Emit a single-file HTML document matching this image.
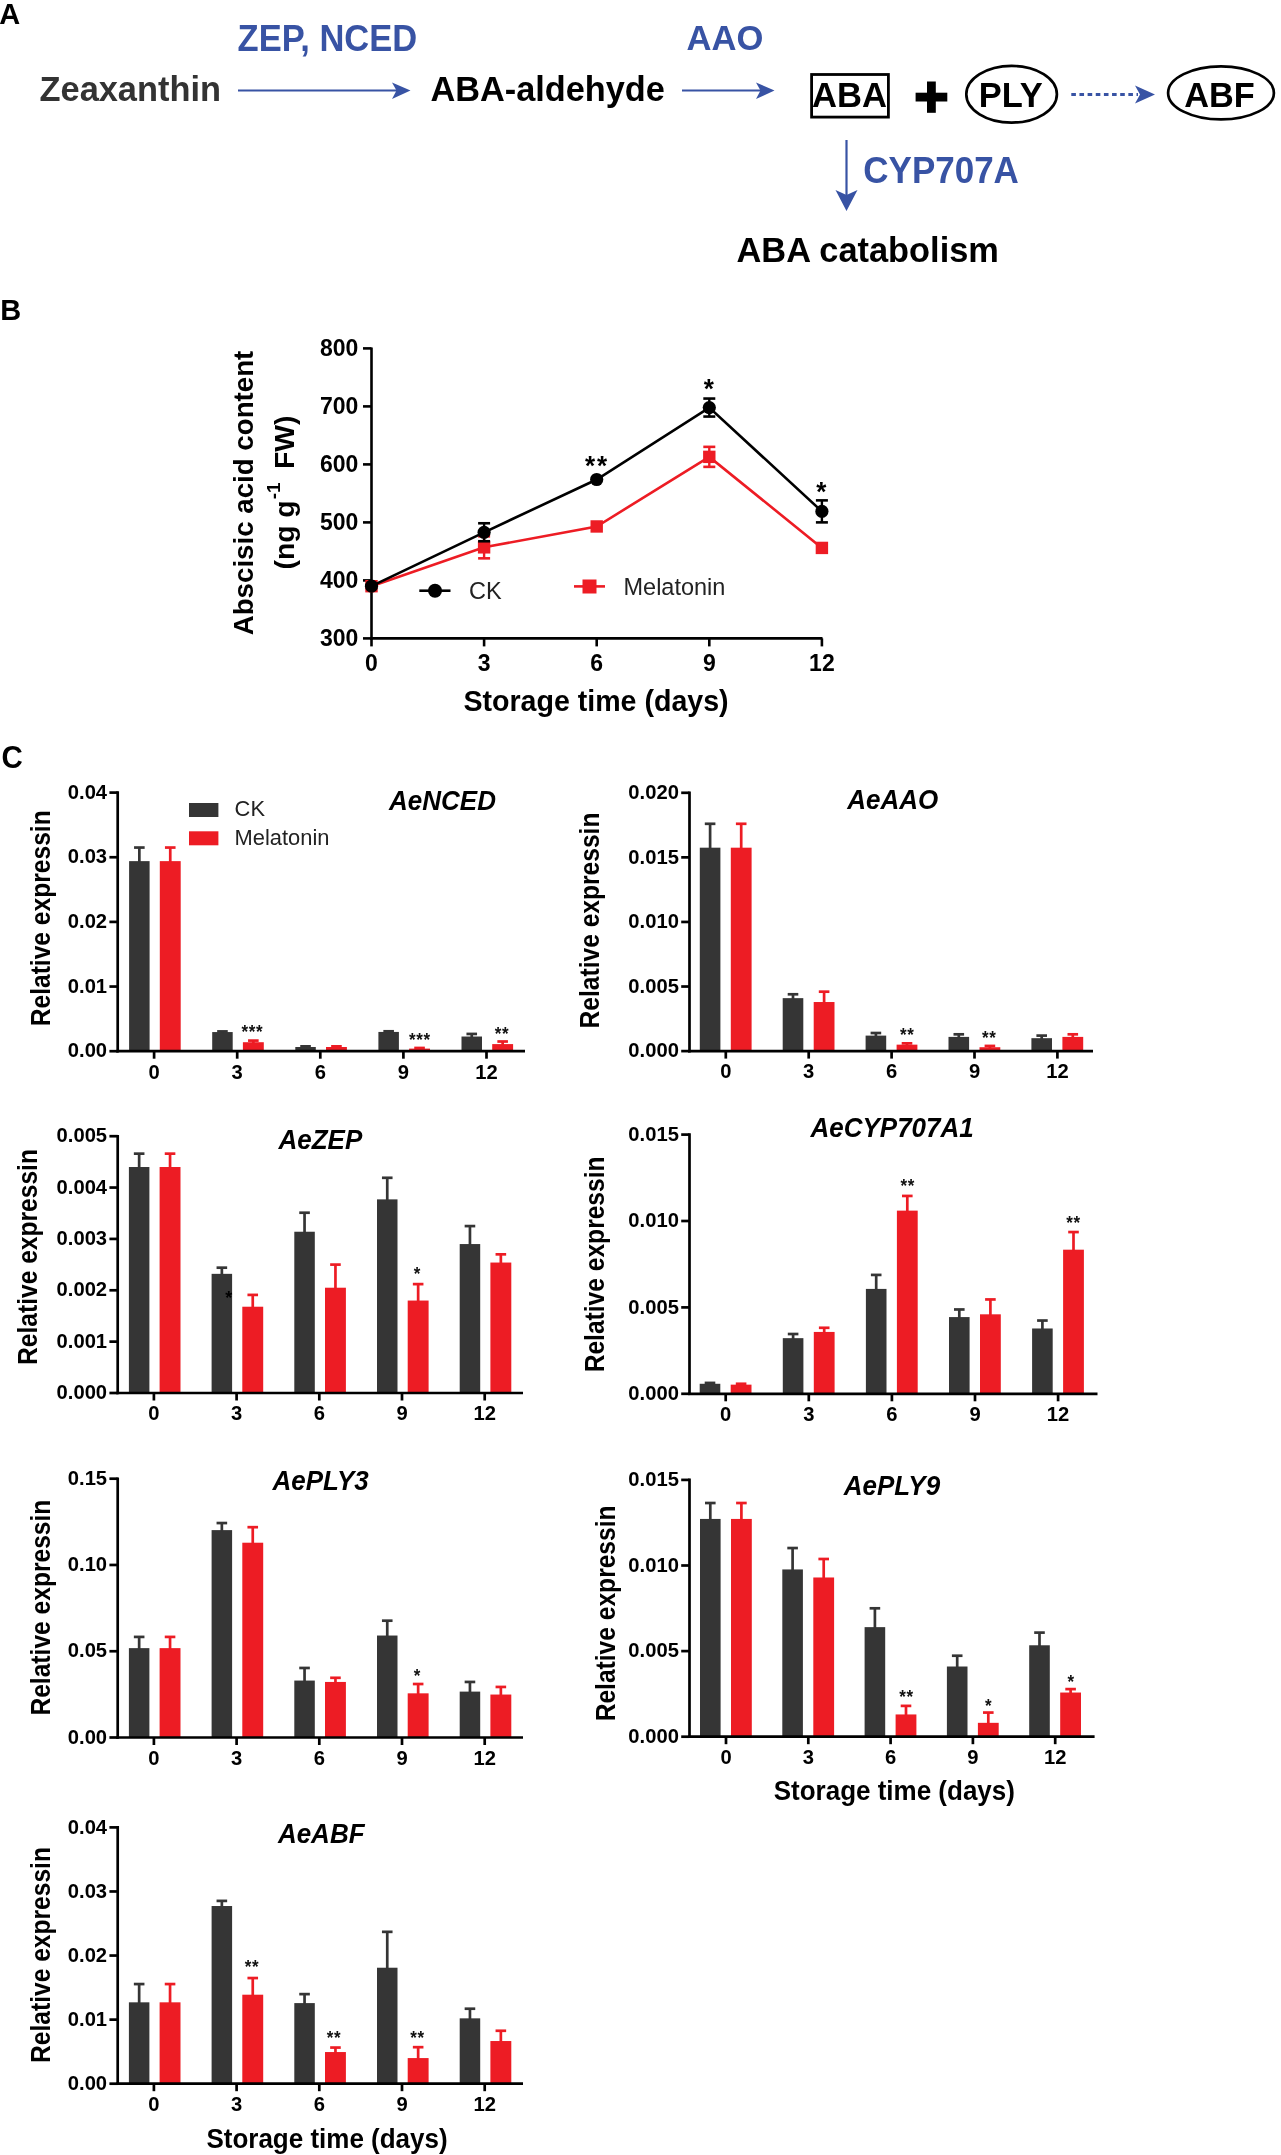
<!DOCTYPE html>
<html><head><meta charset="utf-8"><style>
html,body{margin:0;padding:0;background:#fff;}
body{width:1281px;height:2155px;overflow:hidden;}
svg{display:block;font-family:"Liberation Sans",sans-serif;filter:blur(0.45px);}
</style></head><body>
<svg width="1281" height="2155" viewBox="0 0 1281 2155">
<text transform="translate(-0.7,23.9) scale(1,1.04)" font-size="29" font-weight="bold" font-style="normal" fill="#000" text-anchor="start" >A</text>
<text transform="translate(237.6,50.5) scale(1,1.06)" font-size="34.5" font-weight="bold" font-style="normal" fill="#3853a4" text-anchor="start" >ZEP, NCED</text>
<text transform="translate(39.5,101) scale(1,1.04)" font-size="34.4" font-weight="bold" font-style="normal" fill="#333" text-anchor="start" >Zeaxanthin</text>
<line x1="238" y1="90.5" x2="404" y2="90.5" stroke="#3853a4" stroke-width="2.2" />
<path d="M392,82.5 L410.5,90.5 L392,99 L396.5,90.5 Z" fill="#3853a4"/>
<text transform="translate(430.5,100.7) scale(1,1.04)" font-size="34.3" font-weight="bold" font-style="normal" fill="#000" text-anchor="start" >ABA-aldehyde</text>
<text transform="translate(686.5,50.3) scale(1,1.04)" font-size="34.6" font-weight="bold" font-style="normal" fill="#3853a4" text-anchor="start" >AAO</text>
<line x1="682" y1="90.5" x2="768" y2="90.5" stroke="#3853a4" stroke-width="2.2" />
<path d="M756,82.5 L774.5,90.5 L756,99 L760.5,90.5 Z" fill="#3853a4"/>
<rect x="811.6" y="74.5" width="76.8" height="42.6" fill="none" stroke="#000" stroke-width="2.8"/>
<text transform="translate(849.5,107.3) scale(1,1.04)" font-size="34.6" font-weight="bold" font-style="normal" fill="#000" text-anchor="middle" >ABA</text>
<rect x="927" y="81.5" width="8.8" height="31.3" fill="#000"/>
<rect x="915.6" y="92.7" width="31.7" height="8.8" fill="#000"/>
<ellipse cx="1011.6" cy="94.2" rx="45.3" ry="28.4" fill="none" stroke="#000" stroke-width="2.7"/>
<text transform="translate(1010.8,107.1) scale(1,1.04)" font-size="34.5" font-weight="bold" font-style="normal" fill="#000" text-anchor="middle" >PLY</text>
<line x1="1071.3" y1="94.4" x2="1138" y2="94.4" stroke="#3853a4" stroke-width="3" stroke-dasharray="4.6,3.55"/>
<path d="M1135,85.5 L1155,94.5 L1135,103.5 L1140,94.5 Z" fill="#3853a4"/>
<ellipse cx="1221" cy="92.9" rx="52.9" ry="26.5" fill="none" stroke="#000" stroke-width="2.7"/>
<text transform="translate(1219.5,106.9) scale(1,1.04)" font-size="34.3" font-weight="bold" font-style="normal" fill="#000" text-anchor="middle" >ABF</text>
<line x1="846.5" y1="140" x2="846.5" y2="205" stroke="#3853a4" stroke-width="2.2" />
<path d="M835.5,190 L846.5,211 L857.5,190 L846.5,195 Z" fill="#3853a4"/>
<text transform="translate(863.3,183.2) scale(1,1.04)" font-size="35" font-weight="bold" font-style="normal" fill="#3853a4" text-anchor="start" >CYP707A</text>
<text transform="translate(736.5,262) scale(1,1.04)" font-size="34.4" font-weight="bold" font-style="normal" fill="#000" text-anchor="start" >ABA catabolism</text>
<text transform="translate(0.2,319.6) scale(1,1.04)" font-size="29" font-weight="bold" font-style="normal" fill="#000" text-anchor="start" >B</text>
<line x1="371.5" y1="347.5" x2="371.5" y2="639.4" stroke="#000" stroke-width="2.6" />
<line x1="370.2" y1="638.4" x2="822.5" y2="638.4" stroke="#000" stroke-width="2.6" />
<line x1="363" y1="638.4" x2="371.5" y2="638.4" stroke="#000" stroke-width="2.6" />
<text transform="translate(358.3,646.0) scale(1,1.04)" font-size="23" font-weight="bold" font-style="normal" fill="#000" text-anchor="end" >300</text>
<line x1="363" y1="580.4" x2="371.5" y2="580.4" stroke="#000" stroke-width="2.6" />
<text transform="translate(358.3,588.0) scale(1,1.04)" font-size="23" font-weight="bold" font-style="normal" fill="#000" text-anchor="end" >400</text>
<line x1="363" y1="522.4" x2="371.5" y2="522.4" stroke="#000" stroke-width="2.6" />
<text transform="translate(358.3,530.0) scale(1,1.04)" font-size="23" font-weight="bold" font-style="normal" fill="#000" text-anchor="end" >500</text>
<line x1="363" y1="464.4" x2="371.5" y2="464.4" stroke="#000" stroke-width="2.6" />
<text transform="translate(358.3,472.0) scale(1,1.04)" font-size="23" font-weight="bold" font-style="normal" fill="#000" text-anchor="end" >600</text>
<line x1="363" y1="406.4" x2="371.5" y2="406.4" stroke="#000" stroke-width="2.6" />
<text transform="translate(358.3,414.0) scale(1,1.04)" font-size="23" font-weight="bold" font-style="normal" fill="#000" text-anchor="end" >700</text>
<line x1="363" y1="348.4" x2="371.5" y2="348.4" stroke="#000" stroke-width="2.6" />
<text transform="translate(358.3,356.0) scale(1,1.04)" font-size="23" font-weight="bold" font-style="normal" fill="#000" text-anchor="end" >800</text>
<line x1="371.5" y1="638.4" x2="371.5" y2="646.4" stroke="#000" stroke-width="2.6" />
<text transform="translate(371.5,670.6) scale(1,1.04)" font-size="23" font-weight="bold" font-style="normal" fill="#000" text-anchor="middle" >0</text>
<line x1="484.09999999999997" y1="638.4" x2="484.09999999999997" y2="646.4" stroke="#000" stroke-width="2.6" />
<text transform="translate(484.09999999999997,670.6) scale(1,1.04)" font-size="23" font-weight="bold" font-style="normal" fill="#000" text-anchor="middle" >3</text>
<line x1="596.6999999999999" y1="638.4" x2="596.6999999999999" y2="646.4" stroke="#000" stroke-width="2.6" />
<text transform="translate(596.6999999999999,670.6) scale(1,1.04)" font-size="23" font-weight="bold" font-style="normal" fill="#000" text-anchor="middle" >6</text>
<line x1="709.3" y1="638.4" x2="709.3" y2="646.4" stroke="#000" stroke-width="2.6" />
<text transform="translate(709.3,670.6) scale(1,1.04)" font-size="23" font-weight="bold" font-style="normal" fill="#000" text-anchor="middle" >9</text>
<line x1="821.8999999999999" y1="638.4" x2="821.8999999999999" y2="646.4" stroke="#000" stroke-width="2.6" />
<text transform="translate(821.8999999999999,670.6) scale(1,1.04)" font-size="23" font-weight="bold" font-style="normal" fill="#000" text-anchor="middle" >12</text>
<text transform="translate(596,710.8) scale(1,1.04)" font-size="28.6" font-weight="bold" font-style="normal" fill="#000" text-anchor="middle" >Storage time (days)</text>
<text transform="translate(253,493) rotate(-90)" font-size="27.7" font-weight="bold" text-anchor="middle">Abscisic acid content</text>
<text transform="translate(294,569.5) rotate(-90)" font-size="28.3" font-weight="bold" text-anchor="start">(ng g<tspan font-size="19" dy="-14.5" dx="1">-1</tspan><tspan dy="14.5" dx="13.5">FW)</tspan></text>
<polyline points="371.5,586.2 484.1,547.3 596.7,526.5 709.3,456.9 821.9,547.9" fill="none" stroke="#ed1c24" stroke-width="2.6"/>
<rect x="365.3" y="579.9999999999999" width="12.4" height="12.4" fill="#ed1c24"/>
<line x1="484.09999999999997" y1="536.34" x2="484.09999999999997" y2="558.3399999999999" stroke="#ed1c24" stroke-width="2.4" />
<line x1="478.09999999999997" y1="536.34" x2="490.09999999999997" y2="536.34" stroke="#ed1c24" stroke-width="2.6" />
<line x1="478.09999999999997" y1="558.3399999999999" x2="490.09999999999997" y2="558.3399999999999" stroke="#ed1c24" stroke-width="2.6" />
<rect x="477.9" y="541.14" width="12.4" height="12.4" fill="#ed1c24"/>
<rect x="590.4999999999999" y="520.26" width="12.4" height="12.4" fill="#ed1c24"/>
<line x1="709.3" y1="446.85999999999996" x2="709.3" y2="466.86" stroke="#ed1c24" stroke-width="2.4" />
<line x1="703.3" y1="446.85999999999996" x2="715.3" y2="446.85999999999996" stroke="#ed1c24" stroke-width="2.6" />
<line x1="703.3" y1="466.86" x2="715.3" y2="466.86" stroke="#ed1c24" stroke-width="2.6" />
<rect x="703.0999999999999" y="450.66" width="12.4" height="12.4" fill="#ed1c24"/>
<rect x="815.6999999999998" y="541.7199999999999" width="12.4" height="12.4" fill="#ed1c24"/>
<polyline points="371.5,586.2 484.1,532.3 596.7,479.5 709.3,407.6 821.9,511.4" fill="none" stroke="#000" stroke-width="2.6"/>
<circle cx="371.5" cy="586.2" r="6.6" fill="#000"/>
<line x1="484.09999999999997" y1="523.26" x2="484.09999999999997" y2="541.26" stroke="#000" stroke-width="2.4" />
<line x1="478.09999999999997" y1="523.26" x2="490.09999999999997" y2="523.26" stroke="#000" stroke-width="2.6" />
<line x1="478.09999999999997" y1="541.26" x2="490.09999999999997" y2="541.26" stroke="#000" stroke-width="2.6" />
<circle cx="484.1" cy="532.3" r="6.6" fill="#000"/>
<circle cx="596.7" cy="479.5" r="6.6" fill="#000"/>
<line x1="709.3" y1="398.56" x2="709.3" y2="416.56" stroke="#000" stroke-width="2.4" />
<line x1="703.3" y1="398.56" x2="715.3" y2="398.56" stroke="#000" stroke-width="2.6" />
<line x1="703.3" y1="416.56" x2="715.3" y2="416.56" stroke="#000" stroke-width="2.6" />
<circle cx="709.3" cy="407.6" r="6.6" fill="#000"/>
<line x1="821.8999999999999" y1="500.38" x2="821.8999999999999" y2="522.38" stroke="#000" stroke-width="2.4" />
<line x1="815.8999999999999" y1="500.38" x2="827.8999999999999" y2="500.38" stroke="#000" stroke-width="2.6" />
<line x1="815.8999999999999" y1="522.38" x2="827.8999999999999" y2="522.38" stroke="#000" stroke-width="2.6" />
<circle cx="821.9" cy="511.4" r="6.6" fill="#000"/>
<text transform="translate(597,475.1) scale(1,1.04)" font-size="26" font-weight="bold" font-style="normal" fill="#000" text-anchor="middle" letter-spacing="2">**</text>
<text transform="translate(708.8,398.1) scale(1,1.04)" font-size="26" font-weight="bold" font-style="normal" fill="#000" text-anchor="middle" >*</text>
<text transform="translate(821.3,500.7) scale(1,1.04)" font-size="26" font-weight="bold" font-style="normal" fill="#000" text-anchor="middle" >*</text>
<line x1="419.3" y1="590.7" x2="450.5" y2="590.7" stroke="#000" stroke-width="2.6" />
<circle cx="435" cy="590.7" r="7" fill="#000"/>
<text transform="translate(469,598.5) scale(1,1.04)" font-size="23.5" font-weight="normal" font-style="normal" fill="#222" text-anchor="start" >CK</text>
<line x1="574" y1="586.4" x2="605" y2="586.4" stroke="#ed1c24" stroke-width="2.6" />
<rect x="582.5" y="579.5" width="14" height="14" fill="#ed1c24"/>
<text transform="translate(623.5,594.6) scale(1,1.04)" font-size="23.5" font-weight="normal" font-style="normal" fill="#222" text-anchor="start" >Melatonin</text>
<text transform="translate(1.6,768) scale(1,1.04)" font-size="29.5" font-weight="bold" font-style="normal" fill="#000" text-anchor="start" >C</text>
<rect x="129.1" y="861.129" width="20.5" height="190.07100000000003" fill="#353535"/>
<line x1="139.35" y1="847.5525" x2="139.35" y2="862.129" stroke="#353535" stroke-width="2.7" />
<line x1="134.04999999999998" y1="847.5525" x2="144.65" y2="847.5525" stroke="#353535" stroke-width="2.7" />
<rect x="159.79999999999998" y="861.129" width="20.900000000000002" height="190.07100000000003" fill="#ed1c24"/>
<line x1="170.25" y1="847.5525" x2="170.25" y2="862.129" stroke="#ed1c24" stroke-width="2.7" />
<line x1="164.95" y1="847.5525" x2="175.55" y2="847.5525" stroke="#ed1c24" stroke-width="2.7" />
<rect x="212.2" y="1032.0636" width="20.5" height="19.136400000000094" fill="#353535"/>
<line x1="222.45" y1="1031.4171000000001" x2="222.45" y2="1033.0636" stroke="#353535" stroke-width="2.7" />
<line x1="217.14999999999998" y1="1031.4171000000001" x2="227.75" y2="1031.4171000000001" stroke="#353535" stroke-width="2.7" />
<rect x="242.89999999999998" y="1042.2136500000001" width="20.900000000000002" height="8.986349999999902" fill="#ed1c24"/>
<line x1="253.35" y1="1040.5974" x2="253.35" y2="1043.2136500000001" stroke="#ed1c24" stroke-width="2.7" />
<line x1="248.04999999999998" y1="1040.5974" x2="258.65" y2="1040.5974" stroke="#ed1c24" stroke-width="2.7" />
<rect x="295.29999999999995" y="1046.99775" width="20.5" height="4.202250000000049" fill="#353535"/>
<line x1="305.54999999999995" y1="1046.35125" x2="305.54999999999995" y2="1047.99775" stroke="#353535" stroke-width="2.7" />
<line x1="300.24999999999994" y1="1046.35125" x2="310.84999999999997" y2="1046.35125" stroke="#353535" stroke-width="2.7" />
<rect x="325.99999999999994" y="1046.99775" width="20.900000000000002" height="4.202250000000049" fill="#ed1c24"/>
<line x1="336.44999999999993" y1="1046.35125" x2="336.44999999999993" y2="1047.99775" stroke="#ed1c24" stroke-width="2.7" />
<line x1="331.1499999999999" y1="1046.35125" x2="341.74999999999994" y2="1046.35125" stroke="#ed1c24" stroke-width="2.7" />
<rect x="378.4" y="1031.9343000000001" width="20.5" height="19.265699999999924" fill="#353535"/>
<line x1="388.65" y1="1031.2878" x2="388.65" y2="1032.9343000000001" stroke="#353535" stroke-width="2.7" />
<line x1="383.34999999999997" y1="1031.2878" x2="393.95" y2="1031.2878" stroke="#353535" stroke-width="2.7" />
<rect x="409.09999999999997" y="1048.614" width="20.900000000000002" height="2.5860000000000127" fill="#ed1c24"/>
<line x1="419.54999999999995" y1="1047.9675" x2="419.54999999999995" y2="1049.614" stroke="#ed1c24" stroke-width="2.7" />
<line x1="414.24999999999994" y1="1047.9675" x2="424.84999999999997" y2="1047.9675" stroke="#ed1c24" stroke-width="2.7" />
<rect x="461.5" y="1036.5244500000001" width="20.5" height="14.67554999999993" fill="#353535"/>
<line x1="471.75" y1="1033.93845" x2="471.75" y2="1037.5244500000001" stroke="#353535" stroke-width="2.7" />
<line x1="466.45" y1="1033.93845" x2="477.05" y2="1033.93845" stroke="#353535" stroke-width="2.7" />
<rect x="492.2" y="1044.0885" width="20.900000000000002" height="7.111499999999978" fill="#ed1c24"/>
<line x1="502.65" y1="1041.5025" x2="502.65" y2="1045.0885" stroke="#ed1c24" stroke-width="2.7" />
<line x1="497.34999999999997" y1="1041.5025" x2="507.95" y2="1041.5025" stroke="#ed1c24" stroke-width="2.7" />
<line x1="117.7" y1="791.3000000000001" x2="117.7" y2="1052.5" stroke="#000" stroke-width="2.7" />
<line x1="116.4" y1="1051.2" x2="525" y2="1051.2" stroke="#000" stroke-width="2.7" />
<line x1="109.4" y1="1051.2" x2="117.7" y2="1051.2" stroke="#000" stroke-width="2.7" />
<text transform="translate(107.10000000000001,1057.4) scale(1,1.04)" font-size="20.2" font-weight="bold" font-style="normal" fill="#000" text-anchor="end" >0.00</text>
<line x1="109.4" y1="986.5500000000001" x2="117.7" y2="986.5500000000001" stroke="#000" stroke-width="2.7" />
<text transform="translate(107.10000000000001,992.7500000000001) scale(1,1.04)" font-size="20.2" font-weight="bold" font-style="normal" fill="#000" text-anchor="end" >0.01</text>
<line x1="109.4" y1="921.9000000000001" x2="117.7" y2="921.9000000000001" stroke="#000" stroke-width="2.7" />
<text transform="translate(107.10000000000001,928.1000000000001) scale(1,1.04)" font-size="20.2" font-weight="bold" font-style="normal" fill="#000" text-anchor="end" >0.02</text>
<line x1="109.4" y1="857.25" x2="117.7" y2="857.25" stroke="#000" stroke-width="2.7" />
<text transform="translate(107.10000000000001,863.45) scale(1,1.04)" font-size="20.2" font-weight="bold" font-style="normal" fill="#000" text-anchor="end" >0.03</text>
<line x1="109.4" y1="792.6" x2="117.7" y2="792.6" stroke="#000" stroke-width="2.7" />
<text transform="translate(107.10000000000001,798.8000000000001) scale(1,1.04)" font-size="20.2" font-weight="bold" font-style="normal" fill="#000" text-anchor="end" >0.04</text>
<line x1="154.1" y1="1051.2" x2="154.1" y2="1058.7" stroke="#000" stroke-width="2.7" />
<text transform="translate(154.1,1078.5) scale(1,1.04)" font-size="20.2" font-weight="bold" font-style="normal" fill="#000" text-anchor="middle" >0</text>
<line x1="237.2" y1="1051.2" x2="237.2" y2="1058.7" stroke="#000" stroke-width="2.7" />
<text transform="translate(237.2,1078.5) scale(1,1.04)" font-size="20.2" font-weight="bold" font-style="normal" fill="#000" text-anchor="middle" >3</text>
<line x1="320.29999999999995" y1="1051.2" x2="320.29999999999995" y2="1058.7" stroke="#000" stroke-width="2.7" />
<text transform="translate(320.29999999999995,1078.5) scale(1,1.04)" font-size="20.2" font-weight="bold" font-style="normal" fill="#000" text-anchor="middle" >6</text>
<line x1="403.4" y1="1051.2" x2="403.4" y2="1058.7" stroke="#000" stroke-width="2.7" />
<text transform="translate(403.4,1078.5) scale(1,1.04)" font-size="20.2" font-weight="bold" font-style="normal" fill="#000" text-anchor="middle" >9</text>
<line x1="486.5" y1="1051.2" x2="486.5" y2="1058.7" stroke="#000" stroke-width="2.7" />
<text transform="translate(486.5,1078.5) scale(1,1.04)" font-size="20.2" font-weight="bold" font-style="normal" fill="#000" text-anchor="middle" >12</text>
<text transform="translate(389.1,810) scale(1,1.04)" font-size="26" font-weight="bold" font-style="italic" fill="#000" text-anchor="start" >AeNCED</text>
<text transform="translate(50.0,918.3) rotate(-90) scale(1,1.1)" font-size="24.6" font-weight="bold" text-anchor="middle">Relative expressin</text>
<text transform="translate(252.4,1038.2) scale(1,1.04)" font-size="17" font-weight="bold" font-style="normal" fill="#111" text-anchor="middle" letter-spacing="0.6">***</text>
<text transform="translate(419.9,1045.7) scale(1,1.04)" font-size="17" font-weight="bold" font-style="normal" fill="#111" text-anchor="middle" letter-spacing="0.6">***</text>
<text transform="translate(502,1040.2) scale(1,1.04)" font-size="17" font-weight="bold" font-style="normal" fill="#111" text-anchor="middle" letter-spacing="0.6">**</text>
<rect x="189" y="803" width="29.4" height="14" fill="#353535"/>
<rect x="189" y="831.3" width="29.4" height="14" fill="#ed1c24"/>
<text transform="translate(234.6,816.3) scale(1,1.04)" font-size="21.9" font-weight="normal" font-style="normal" fill="#222" text-anchor="start" >CK</text>
<text transform="translate(234.6,844.7) scale(1,1.04)" font-size="21.9" font-weight="normal" font-style="normal" fill="#222" text-anchor="start" >Melatonin</text>
<rect x="699.8" y="847.6887499999999" width="20.6" height="203.41125" fill="#353535"/>
<line x1="710.0999999999999" y1="823.7959999999999" x2="710.0999999999999" y2="848.6887499999999" stroke="#353535" stroke-width="2.7" />
<line x1="704.8" y1="823.7959999999999" x2="715.3999999999999" y2="823.7959999999999" stroke="#353535" stroke-width="2.7" />
<rect x="730.8" y="847.6887499999999" width="20.8" height="203.41125" fill="#ed1c24"/>
<line x1="741.1999999999999" y1="823.7959999999999" x2="741.1999999999999" y2="848.6887499999999" stroke="#ed1c24" stroke-width="2.7" />
<line x1="735.9" y1="823.7959999999999" x2="746.4999999999999" y2="823.7959999999999" stroke="#ed1c24" stroke-width="2.7" />
<rect x="782.6999999999999" y="998.1484999999999" width="20.6" height="52.95150000000001" fill="#353535"/>
<line x1="792.9999999999999" y1="994.2739999999999" x2="792.9999999999999" y2="999.1484999999999" stroke="#353535" stroke-width="2.7" />
<line x1="787.6999999999999" y1="994.2739999999999" x2="798.2999999999998" y2="994.2739999999999" stroke="#353535" stroke-width="2.7" />
<rect x="813.6999999999999" y="1002.0229999999999" width="20.8" height="49.077" fill="#ed1c24"/>
<line x1="824.0999999999999" y1="991.6909999999999" x2="824.0999999999999" y2="1003.0229999999999" stroke="#ed1c24" stroke-width="2.7" />
<line x1="818.8" y1="991.6909999999999" x2="829.3999999999999" y2="991.6909999999999" stroke="#ed1c24" stroke-width="2.7" />
<rect x="865.5999999999999" y="1035.6019999999999" width="20.6" height="15.498000000000047" fill="#353535"/>
<line x1="875.8999999999999" y1="1033.019" x2="875.8999999999999" y2="1036.6019999999999" stroke="#353535" stroke-width="2.7" />
<line x1="870.5999999999999" y1="1033.019" x2="881.1999999999998" y2="1033.019" stroke="#353535" stroke-width="2.7" />
<rect x="896.5999999999999" y="1044.6425" width="20.8" height="6.457499999999982" fill="#ed1c24"/>
<line x1="906.9999999999999" y1="1043.3509999999999" x2="906.9999999999999" y2="1045.6425" stroke="#ed1c24" stroke-width="2.7" />
<line x1="901.6999999999999" y1="1043.3509999999999" x2="912.2999999999998" y2="1043.3509999999999" stroke="#ed1c24" stroke-width="2.7" />
<rect x="948.5" y="1036.8935" width="20.6" height="14.206500000000005" fill="#353535"/>
<line x1="958.8" y1="1034.3104999999998" x2="958.8" y2="1037.8935" stroke="#353535" stroke-width="2.7" />
<line x1="953.5" y1="1034.3104999999998" x2="964.0999999999999" y2="1034.3104999999998" stroke="#353535" stroke-width="2.7" />
<rect x="979.5" y="1047.2255" width="20.8" height="3.874499999999898" fill="#ed1c24"/>
<line x1="989.9" y1="1045.934" x2="989.9" y2="1048.2255" stroke="#ed1c24" stroke-width="2.7" />
<line x1="984.6" y1="1045.934" x2="995.1999999999999" y2="1045.934" stroke="#ed1c24" stroke-width="2.7" />
<rect x="1031.4" y="1038.185" width="20.6" height="12.914999999999964" fill="#353535"/>
<line x1="1041.7" y1="1035.6019999999999" x2="1041.7" y2="1039.185" stroke="#353535" stroke-width="2.7" />
<line x1="1036.4" y1="1035.6019999999999" x2="1047.0" y2="1035.6019999999999" stroke="#353535" stroke-width="2.7" />
<rect x="1062.4" y="1036.8935" width="20.8" height="14.206500000000005" fill="#ed1c24"/>
<line x1="1072.8000000000002" y1="1034.3104999999998" x2="1072.8000000000002" y2="1037.8935" stroke="#ed1c24" stroke-width="2.7" />
<line x1="1067.5000000000002" y1="1034.3104999999998" x2="1078.1000000000001" y2="1034.3104999999998" stroke="#ed1c24" stroke-width="2.7" />
<line x1="689.5" y1="791.5" x2="689.5" y2="1052.3999999999999" stroke="#000" stroke-width="2.7" />
<line x1="688.2" y1="1051.1" x2="1093" y2="1051.1" stroke="#000" stroke-width="2.7" />
<line x1="681.2" y1="1051.1" x2="689.5" y2="1051.1" stroke="#000" stroke-width="2.7" />
<text transform="translate(678.9,1057.3) scale(1,1.04)" font-size="20.2" font-weight="bold" font-style="normal" fill="#000" text-anchor="end" >0.000</text>
<line x1="681.2" y1="986.5249999999999" x2="689.5" y2="986.5249999999999" stroke="#000" stroke-width="2.7" />
<text transform="translate(678.9,992.7249999999999) scale(1,1.04)" font-size="20.2" font-weight="bold" font-style="normal" fill="#000" text-anchor="end" >0.005</text>
<line x1="681.2" y1="921.9499999999999" x2="689.5" y2="921.9499999999999" stroke="#000" stroke-width="2.7" />
<text transform="translate(678.9,928.15) scale(1,1.04)" font-size="20.2" font-weight="bold" font-style="normal" fill="#000" text-anchor="end" >0.010</text>
<line x1="681.2" y1="857.375" x2="689.5" y2="857.375" stroke="#000" stroke-width="2.7" />
<text transform="translate(678.9,863.575) scale(1,1.04)" font-size="20.2" font-weight="bold" font-style="normal" fill="#000" text-anchor="end" >0.015</text>
<line x1="681.2" y1="792.8" x2="689.5" y2="792.8" stroke="#000" stroke-width="2.7" />
<text transform="translate(678.9,799.0) scale(1,1.04)" font-size="20.2" font-weight="bold" font-style="normal" fill="#000" text-anchor="end" >0.020</text>
<line x1="725.8" y1="1051.1" x2="725.8" y2="1058.6" stroke="#000" stroke-width="2.7" />
<text transform="translate(725.8,1078.3999999999999) scale(1,1.04)" font-size="20.2" font-weight="bold" font-style="normal" fill="#000" text-anchor="middle" >0</text>
<line x1="808.6999999999999" y1="1051.1" x2="808.6999999999999" y2="1058.6" stroke="#000" stroke-width="2.7" />
<text transform="translate(808.6999999999999,1078.3999999999999) scale(1,1.04)" font-size="20.2" font-weight="bold" font-style="normal" fill="#000" text-anchor="middle" >3</text>
<line x1="891.5999999999999" y1="1051.1" x2="891.5999999999999" y2="1058.6" stroke="#000" stroke-width="2.7" />
<text transform="translate(891.5999999999999,1078.3999999999999) scale(1,1.04)" font-size="20.2" font-weight="bold" font-style="normal" fill="#000" text-anchor="middle" >6</text>
<line x1="974.5" y1="1051.1" x2="974.5" y2="1058.6" stroke="#000" stroke-width="2.7" />
<text transform="translate(974.5,1078.3999999999999) scale(1,1.04)" font-size="20.2" font-weight="bold" font-style="normal" fill="#000" text-anchor="middle" >9</text>
<line x1="1057.4" y1="1051.1" x2="1057.4" y2="1058.6" stroke="#000" stroke-width="2.7" />
<text transform="translate(1057.4,1078.3999999999999) scale(1,1.04)" font-size="20.2" font-weight="bold" font-style="normal" fill="#000" text-anchor="middle" >12</text>
<text transform="translate(847.2,808.8) scale(1,1.04)" font-size="26" font-weight="bold" font-style="italic" fill="#000" text-anchor="start" >AeAAO</text>
<text transform="translate(598.5,920.5) rotate(-90) scale(1,1.1)" font-size="24.6" font-weight="bold" text-anchor="middle">Relative expressin</text>
<text transform="translate(907.3,1041.4) scale(1,1.04)" font-size="17" font-weight="bold" font-style="normal" fill="#111" text-anchor="middle" letter-spacing="0.6">**</text>
<text transform="translate(989.3,1043.6000000000001) scale(1,1.04)" font-size="17" font-weight="bold" font-style="normal" fill="#111" text-anchor="middle" letter-spacing="0.6">**</text>
<rect x="128.9" y="1167.016" width="20.5" height="225.98399999999992" fill="#353535"/>
<line x1="139.15" y1="1153.6624" x2="139.15" y2="1168.016" stroke="#353535" stroke-width="2.7" />
<line x1="133.85" y1="1153.6624" x2="144.45000000000002" y2="1153.6624" stroke="#353535" stroke-width="2.7" />
<rect x="159.6" y="1167.016" width="20.900000000000002" height="225.98399999999992" fill="#ed1c24"/>
<line x1="170.05" y1="1153.6624" x2="170.05" y2="1168.016" stroke="#ed1c24" stroke-width="2.7" />
<line x1="164.75" y1="1153.6624" x2="175.35000000000002" y2="1153.6624" stroke="#ed1c24" stroke-width="2.7" />
<rect x="211.60000000000002" y="1273.8448" width="20.5" height="119.15519999999992" fill="#353535"/>
<line x1="221.85000000000002" y1="1267.6816000000001" x2="221.85000000000002" y2="1274.8448" stroke="#353535" stroke-width="2.7" />
<line x1="216.55" y1="1267.6816000000001" x2="227.15000000000003" y2="1267.6816000000001" stroke="#353535" stroke-width="2.7" />
<rect x="242.3" y="1306.7152" width="20.900000000000002" height="86.2847999999999" fill="#ed1c24"/>
<line x1="252.75000000000003" y1="1294.9024" x2="252.75000000000003" y2="1307.7152" stroke="#ed1c24" stroke-width="2.7" />
<line x1="247.45000000000002" y1="1294.9024" x2="258.05" y2="1294.9024" stroke="#ed1c24" stroke-width="2.7" />
<rect x="294.3" y="1231.7296000000001" width="20.5" height="161.27039999999988" fill="#353535"/>
<line x1="304.55" y1="1212.7264" x2="304.55" y2="1232.7296000000001" stroke="#353535" stroke-width="2.7" />
<line x1="299.25" y1="1212.7264" x2="309.85" y2="1212.7264" stroke="#353535" stroke-width="2.7" />
<rect x="325.0" y="1287.712" width="20.900000000000002" height="105.28800000000001" fill="#ed1c24"/>
<line x1="335.45" y1="1264.6" x2="335.45" y2="1288.712" stroke="#ed1c24" stroke-width="2.7" />
<line x1="330.15" y1="1264.6" x2="340.75" y2="1264.6" stroke="#ed1c24" stroke-width="2.7" />
<rect x="377.0" y="1199.3728" width="20.5" height="193.6271999999999" fill="#353535"/>
<line x1="387.25" y1="1177.8016" x2="387.25" y2="1200.3728" stroke="#353535" stroke-width="2.7" />
<line x1="381.95" y1="1177.8016" x2="392.55" y2="1177.8016" stroke="#353535" stroke-width="2.7" />
<rect x="407.7" y="1300.5520000000001" width="20.900000000000002" height="92.44799999999987" fill="#ed1c24"/>
<line x1="418.15" y1="1284.1168" x2="418.15" y2="1301.5520000000001" stroke="#ed1c24" stroke-width="2.7" />
<line x1="412.84999999999997" y1="1284.1168" x2="423.45" y2="1284.1168" stroke="#ed1c24" stroke-width="2.7" />
<rect x="459.70000000000005" y="1244.056" width="20.5" height="148.94399999999996" fill="#353535"/>
<line x1="469.95000000000005" y1="1226.08" x2="469.95000000000005" y2="1245.056" stroke="#353535" stroke-width="2.7" />
<line x1="464.65000000000003" y1="1226.08" x2="475.25000000000006" y2="1226.08" stroke="#353535" stroke-width="2.7" />
<rect x="490.40000000000003" y="1262.5456" width="20.900000000000002" height="130.45440000000008" fill="#ed1c24"/>
<line x1="500.85" y1="1254.328" x2="500.85" y2="1263.5456" stroke="#ed1c24" stroke-width="2.7" />
<line x1="495.55" y1="1254.328" x2="506.15000000000003" y2="1254.328" stroke="#ed1c24" stroke-width="2.7" />
<line x1="117.7" y1="1134.9" x2="117.7" y2="1394.3" stroke="#000" stroke-width="2.7" />
<line x1="116.4" y1="1393" x2="523" y2="1393" stroke="#000" stroke-width="2.7" />
<line x1="109.4" y1="1393.0" x2="117.7" y2="1393.0" stroke="#000" stroke-width="2.7" />
<text transform="translate(107.10000000000001,1399.2) scale(1,1.04)" font-size="20.2" font-weight="bold" font-style="normal" fill="#000" text-anchor="end" >0.000</text>
<line x1="109.4" y1="1341.64" x2="117.7" y2="1341.64" stroke="#000" stroke-width="2.7" />
<text transform="translate(107.10000000000001,1347.8400000000001) scale(1,1.04)" font-size="20.2" font-weight="bold" font-style="normal" fill="#000" text-anchor="end" >0.001</text>
<line x1="109.4" y1="1290.28" x2="117.7" y2="1290.28" stroke="#000" stroke-width="2.7" />
<text transform="translate(107.10000000000001,1296.48) scale(1,1.04)" font-size="20.2" font-weight="bold" font-style="normal" fill="#000" text-anchor="end" >0.002</text>
<line x1="109.4" y1="1238.92" x2="117.7" y2="1238.92" stroke="#000" stroke-width="2.7" />
<text transform="translate(107.10000000000001,1245.1200000000001) scale(1,1.04)" font-size="20.2" font-weight="bold" font-style="normal" fill="#000" text-anchor="end" >0.003</text>
<line x1="109.4" y1="1187.56" x2="117.7" y2="1187.56" stroke="#000" stroke-width="2.7" />
<text transform="translate(107.10000000000001,1193.76) scale(1,1.04)" font-size="20.2" font-weight="bold" font-style="normal" fill="#000" text-anchor="end" >0.004</text>
<line x1="109.4" y1="1136.2" x2="117.7" y2="1136.2" stroke="#000" stroke-width="2.7" />
<text transform="translate(107.10000000000001,1142.4) scale(1,1.04)" font-size="20.2" font-weight="bold" font-style="normal" fill="#000" text-anchor="end" >0.005</text>
<line x1="153.9" y1="1393" x2="153.9" y2="1400.5" stroke="#000" stroke-width="2.7" />
<text transform="translate(153.9,1420.3) scale(1,1.04)" font-size="20.2" font-weight="bold" font-style="normal" fill="#000" text-anchor="middle" >0</text>
<line x1="236.60000000000002" y1="1393" x2="236.60000000000002" y2="1400.5" stroke="#000" stroke-width="2.7" />
<text transform="translate(236.60000000000002,1420.3) scale(1,1.04)" font-size="20.2" font-weight="bold" font-style="normal" fill="#000" text-anchor="middle" >3</text>
<line x1="319.3" y1="1393" x2="319.3" y2="1400.5" stroke="#000" stroke-width="2.7" />
<text transform="translate(319.3,1420.3) scale(1,1.04)" font-size="20.2" font-weight="bold" font-style="normal" fill="#000" text-anchor="middle" >6</text>
<line x1="402.0" y1="1393" x2="402.0" y2="1400.5" stroke="#000" stroke-width="2.7" />
<text transform="translate(402.0,1420.3) scale(1,1.04)" font-size="20.2" font-weight="bold" font-style="normal" fill="#000" text-anchor="middle" >9</text>
<line x1="484.70000000000005" y1="1393" x2="484.70000000000005" y2="1400.5" stroke="#000" stroke-width="2.7" />
<text transform="translate(484.70000000000005,1420.3) scale(1,1.04)" font-size="20.2" font-weight="bold" font-style="normal" fill="#000" text-anchor="middle" >12</text>
<text transform="translate(278.5,1148.5) scale(1,1.04)" font-size="26" font-weight="bold" font-style="italic" fill="#000" text-anchor="start" >AeZEP</text>
<text transform="translate(37.2,1257) rotate(-90) scale(1,1.1)" font-size="24.6" font-weight="bold" text-anchor="middle">Relative expressin</text>
<text transform="translate(228.8,1303.5) scale(1,1.04)" font-size="18" font-weight="bold" font-style="normal" fill="#000" text-anchor="middle" >*</text>
<text transform="translate(417.4,1280.2) scale(1,1.04)" font-size="17" font-weight="bold" font-style="normal" fill="#111" text-anchor="middle" letter-spacing="0.6">*</text>
<rect x="699.7" y="1383.7776" width="20.6" height="10.022400000000061" fill="#353535"/>
<line x1="710.0" y1="1382.9135999999999" x2="710.0" y2="1384.7776" stroke="#353535" stroke-width="2.7" />
<line x1="704.7" y1="1382.9135999999999" x2="715.3" y2="1382.9135999999999" stroke="#353535" stroke-width="2.7" />
<rect x="730.7" y="1384.6416" width="20.8" height="9.158400000000029" fill="#ed1c24"/>
<line x1="741.1" y1="1383.7776" x2="741.1" y2="1385.6416" stroke="#ed1c24" stroke-width="2.7" />
<line x1="735.8000000000001" y1="1383.7776" x2="746.4" y2="1383.7776" stroke="#ed1c24" stroke-width="2.7" />
<rect x="782.8000000000001" y="1338.1584" width="20.6" height="55.641599999999926" fill="#353535"/>
<line x1="793.1" y1="1334.0112" x2="793.1" y2="1339.1584" stroke="#353535" stroke-width="2.7" />
<line x1="787.8000000000001" y1="1334.0112" x2="798.4" y2="1334.0112" stroke="#353535" stroke-width="2.7" />
<rect x="813.8000000000001" y="1331.9376" width="20.8" height="61.86239999999998" fill="#ed1c24"/>
<line x1="824.2" y1="1327.7903999999999" x2="824.2" y2="1332.9376" stroke="#ed1c24" stroke-width="2.7" />
<line x1="818.9000000000001" y1="1327.7903999999999" x2="829.5" y2="1327.7903999999999" stroke="#ed1c24" stroke-width="2.7" />
<rect x="865.9000000000001" y="1288.9104" width="20.6" height="104.88959999999997" fill="#353535"/>
<line x1="876.2" y1="1274.9135999999999" x2="876.2" y2="1289.9104" stroke="#353535" stroke-width="2.7" />
<line x1="870.9000000000001" y1="1274.9135999999999" x2="881.5" y2="1274.9135999999999" stroke="#353535" stroke-width="2.7" />
<rect x="896.9000000000001" y="1210.6319999999998" width="20.8" height="183.16800000000012" fill="#ed1c24"/>
<line x1="907.3000000000001" y1="1195.944" x2="907.3000000000001" y2="1211.6319999999998" stroke="#ed1c24" stroke-width="2.7" />
<line x1="902.0000000000001" y1="1195.944" x2="912.6" y2="1195.944" stroke="#ed1c24" stroke-width="2.7" />
<rect x="949.0" y="1317.0767999999998" width="20.6" height="76.72320000000013" fill="#353535"/>
<line x1="959.3" y1="1309.4735999999998" x2="959.3" y2="1318.0767999999998" stroke="#353535" stroke-width="2.7" />
<line x1="954.0" y1="1309.4735999999998" x2="964.5999999999999" y2="1309.4735999999998" stroke="#353535" stroke-width="2.7" />
<rect x="980.0" y="1314.312" width="20.8" height="79.48800000000006" fill="#ed1c24"/>
<line x1="990.4" y1="1299.4512" x2="990.4" y2="1315.312" stroke="#ed1c24" stroke-width="2.7" />
<line x1="985.1" y1="1299.4512" x2="995.6999999999999" y2="1299.4512" stroke="#ed1c24" stroke-width="2.7" />
<rect x="1032.1" y="1328.4815999999998" width="20.6" height="65.31840000000011" fill="#353535"/>
<line x1="1042.3999999999999" y1="1320.5328" x2="1042.3999999999999" y2="1329.4815999999998" stroke="#353535" stroke-width="2.7" />
<line x1="1037.1" y1="1320.5328" x2="1047.6999999999998" y2="1320.5328" stroke="#353535" stroke-width="2.7" />
<rect x="1063.1" y="1249.6848" width="20.8" height="144.11519999999996" fill="#ed1c24"/>
<line x1="1073.5" y1="1232.0592" x2="1073.5" y2="1250.6848" stroke="#ed1c24" stroke-width="2.7" />
<line x1="1068.2" y1="1232.0592" x2="1078.8" y2="1232.0592" stroke="#ed1c24" stroke-width="2.7" />
<line x1="689.5" y1="1133.3" x2="689.5" y2="1395.1" stroke="#000" stroke-width="2.7" />
<line x1="688.2" y1="1393.8" x2="1097.5" y2="1393.8" stroke="#000" stroke-width="2.7" />
<line x1="681.2" y1="1393.8" x2="689.5" y2="1393.8" stroke="#000" stroke-width="2.7" />
<text transform="translate(678.9,1400.0) scale(1,1.04)" font-size="20.2" font-weight="bold" font-style="normal" fill="#000" text-anchor="end" >0.000</text>
<line x1="681.2" y1="1307.3999999999999" x2="689.5" y2="1307.3999999999999" stroke="#000" stroke-width="2.7" />
<text transform="translate(678.9,1313.6) scale(1,1.04)" font-size="20.2" font-weight="bold" font-style="normal" fill="#000" text-anchor="end" >0.005</text>
<line x1="681.2" y1="1221.0" x2="689.5" y2="1221.0" stroke="#000" stroke-width="2.7" />
<text transform="translate(678.9,1227.2) scale(1,1.04)" font-size="20.2" font-weight="bold" font-style="normal" fill="#000" text-anchor="end" >0.010</text>
<line x1="681.2" y1="1134.6" x2="689.5" y2="1134.6" stroke="#000" stroke-width="2.7" />
<text transform="translate(678.9,1140.8) scale(1,1.04)" font-size="20.2" font-weight="bold" font-style="normal" fill="#000" text-anchor="end" >0.015</text>
<line x1="725.7" y1="1393.8" x2="725.7" y2="1401.3" stroke="#000" stroke-width="2.7" />
<text transform="translate(725.7,1421.1) scale(1,1.04)" font-size="20.2" font-weight="bold" font-style="normal" fill="#000" text-anchor="middle" >0</text>
<line x1="808.8000000000001" y1="1393.8" x2="808.8000000000001" y2="1401.3" stroke="#000" stroke-width="2.7" />
<text transform="translate(808.8000000000001,1421.1) scale(1,1.04)" font-size="20.2" font-weight="bold" font-style="normal" fill="#000" text-anchor="middle" >3</text>
<line x1="891.9000000000001" y1="1393.8" x2="891.9000000000001" y2="1401.3" stroke="#000" stroke-width="2.7" />
<text transform="translate(891.9000000000001,1421.1) scale(1,1.04)" font-size="20.2" font-weight="bold" font-style="normal" fill="#000" text-anchor="middle" >6</text>
<line x1="975.0" y1="1393.8" x2="975.0" y2="1401.3" stroke="#000" stroke-width="2.7" />
<text transform="translate(975.0,1421.1) scale(1,1.04)" font-size="20.2" font-weight="bold" font-style="normal" fill="#000" text-anchor="middle" >9</text>
<line x1="1058.1" y1="1393.8" x2="1058.1" y2="1401.3" stroke="#000" stroke-width="2.7" />
<text transform="translate(1058.1,1421.1) scale(1,1.04)" font-size="20.2" font-weight="bold" font-style="normal" fill="#000" text-anchor="middle" >12</text>
<text transform="translate(810.5,1137) scale(1,1.04)" font-size="26" font-weight="bold" font-style="italic" fill="#000" text-anchor="start" >AeCYP707A1</text>
<text transform="translate(603.8,1264.4) rotate(-90) scale(1,1.1)" font-size="24.6" font-weight="bold" text-anchor="middle">Relative expressin</text>
<text transform="translate(907.8,1192.2) scale(1,1.04)" font-size="17" font-weight="bold" font-style="normal" fill="#111" text-anchor="middle" letter-spacing="0.6">**</text>
<text transform="translate(1073.5,1229.2) scale(1,1.04)" font-size="17" font-weight="bold" font-style="normal" fill="#111" text-anchor="middle" letter-spacing="0.6">**</text>
<rect x="128.9" y="1648.1277333333333" width="20.5" height="89.37226666666675" fill="#353535"/>
<line x1="139.15" y1="1636.9130666666667" x2="139.15" y2="1649.1277333333333" stroke="#353535" stroke-width="2.7" />
<line x1="133.85" y1="1636.9130666666667" x2="144.45000000000002" y2="1636.9130666666667" stroke="#353535" stroke-width="2.7" />
<rect x="159.6" y="1648.1277333333333" width="20.900000000000002" height="89.37226666666675" fill="#ed1c24"/>
<line x1="170.05" y1="1636.9130666666667" x2="170.05" y2="1649.1277333333333" stroke="#ed1c24" stroke-width="2.7" />
<line x1="164.75" y1="1636.9130666666667" x2="175.35000000000002" y2="1636.9130666666667" stroke="#ed1c24" stroke-width="2.7" />
<rect x="211.60000000000002" y="1530.1149333333333" width="20.5" height="207.38506666666672" fill="#353535"/>
<line x1="221.85000000000002" y1="1523.0410666666667" x2="221.85000000000002" y2="1531.1149333333333" stroke="#353535" stroke-width="2.7" />
<line x1="216.55" y1="1523.0410666666667" x2="227.15000000000003" y2="1523.0410666666667" stroke="#353535" stroke-width="2.7" />
<rect x="242.3" y="1542.7098666666666" width="20.900000000000002" height="194.79013333333342" fill="#ed1c24"/>
<line x1="252.75000000000003" y1="1527.1818666666668" x2="252.75000000000003" y2="1543.7098666666666" stroke="#ed1c24" stroke-width="2.7" />
<line x1="247.45000000000002" y1="1527.1818666666668" x2="258.05" y2="1527.1818666666668" stroke="#ed1c24" stroke-width="2.7" />
<rect x="294.3" y="1680.564" width="20.5" height="56.93599999999992" fill="#353535"/>
<line x1="304.55" y1="1667.9690666666668" x2="304.55" y2="1681.564" stroke="#353535" stroke-width="2.7" />
<line x1="299.25" y1="1667.9690666666668" x2="309.85" y2="1667.9690666666668" stroke="#353535" stroke-width="2.7" />
<rect x="325.0" y="1681.9442666666666" width="20.900000000000002" height="55.555733333333364" fill="#ed1c24"/>
<line x1="335.45" y1="1677.8034666666667" x2="335.45" y2="1682.9442666666666" stroke="#ed1c24" stroke-width="2.7" />
<line x1="330.15" y1="1677.8034666666667" x2="340.75" y2="1677.8034666666667" stroke="#ed1c24" stroke-width="2.7" />
<rect x="377.0" y="1635.5328" width="20.5" height="101.96720000000005" fill="#353535"/>
<line x1="387.25" y1="1620.6949333333334" x2="387.25" y2="1636.5328" stroke="#353535" stroke-width="2.7" />
<line x1="381.95" y1="1620.6949333333334" x2="392.55" y2="1620.6949333333334" stroke="#353535" stroke-width="2.7" />
<rect x="407.7" y="1693.3314666666668" width="20.900000000000002" height="44.168533333333244" fill="#ed1c24"/>
<line x1="418.15" y1="1684.0146666666667" x2="418.15" y2="1694.3314666666668" stroke="#ed1c24" stroke-width="2.7" />
<line x1="412.84999999999997" y1="1684.0146666666667" x2="423.45" y2="1684.0146666666667" stroke="#ed1c24" stroke-width="2.7" />
<rect x="459.70000000000005" y="1691.6061333333334" width="20.5" height="45.893866666666554" fill="#353535"/>
<line x1="469.95000000000005" y1="1681.9442666666666" x2="469.95000000000005" y2="1692.6061333333334" stroke="#353535" stroke-width="2.7" />
<line x1="464.65000000000003" y1="1681.9442666666666" x2="475.25000000000006" y2="1681.9442666666666" stroke="#353535" stroke-width="2.7" />
<rect x="490.40000000000003" y="1694.5392" width="20.900000000000002" height="42.96080000000006" fill="#ed1c24"/>
<line x1="500.85" y1="1686.9477333333334" x2="500.85" y2="1695.5392" stroke="#ed1c24" stroke-width="2.7" />
<line x1="495.55" y1="1686.9477333333334" x2="506.15000000000003" y2="1686.9477333333334" stroke="#ed1c24" stroke-width="2.7" />
<line x1="117.7" y1="1477.4" x2="117.7" y2="1738.8" stroke="#000" stroke-width="2.7" />
<line x1="116.4" y1="1737.5" x2="523" y2="1737.5" stroke="#000" stroke-width="2.7" />
<line x1="109.4" y1="1737.5" x2="117.7" y2="1737.5" stroke="#000" stroke-width="2.7" />
<text transform="translate(107.10000000000001,1743.7) scale(1,1.04)" font-size="20.2" font-weight="bold" font-style="normal" fill="#000" text-anchor="end" >0.00</text>
<line x1="109.4" y1="1651.2333333333333" x2="117.7" y2="1651.2333333333333" stroke="#000" stroke-width="2.7" />
<text transform="translate(107.10000000000001,1657.4333333333334) scale(1,1.04)" font-size="20.2" font-weight="bold" font-style="normal" fill="#000" text-anchor="end" >0.05</text>
<line x1="109.4" y1="1564.9666666666667" x2="117.7" y2="1564.9666666666667" stroke="#000" stroke-width="2.7" />
<text transform="translate(107.10000000000001,1571.1666666666667) scale(1,1.04)" font-size="20.2" font-weight="bold" font-style="normal" fill="#000" text-anchor="end" >0.10</text>
<line x1="109.4" y1="1478.7" x2="117.7" y2="1478.7" stroke="#000" stroke-width="2.7" />
<text transform="translate(107.10000000000001,1484.9) scale(1,1.04)" font-size="20.2" font-weight="bold" font-style="normal" fill="#000" text-anchor="end" >0.15</text>
<line x1="153.9" y1="1737.5" x2="153.9" y2="1745.0" stroke="#000" stroke-width="2.7" />
<text transform="translate(153.9,1764.8) scale(1,1.04)" font-size="20.2" font-weight="bold" font-style="normal" fill="#000" text-anchor="middle" >0</text>
<line x1="236.60000000000002" y1="1737.5" x2="236.60000000000002" y2="1745.0" stroke="#000" stroke-width="2.7" />
<text transform="translate(236.60000000000002,1764.8) scale(1,1.04)" font-size="20.2" font-weight="bold" font-style="normal" fill="#000" text-anchor="middle" >3</text>
<line x1="319.3" y1="1737.5" x2="319.3" y2="1745.0" stroke="#000" stroke-width="2.7" />
<text transform="translate(319.3,1764.8) scale(1,1.04)" font-size="20.2" font-weight="bold" font-style="normal" fill="#000" text-anchor="middle" >6</text>
<line x1="402.0" y1="1737.5" x2="402.0" y2="1745.0" stroke="#000" stroke-width="2.7" />
<text transform="translate(402.0,1764.8) scale(1,1.04)" font-size="20.2" font-weight="bold" font-style="normal" fill="#000" text-anchor="middle" >9</text>
<line x1="484.70000000000005" y1="1737.5" x2="484.70000000000005" y2="1745.0" stroke="#000" stroke-width="2.7" />
<text transform="translate(484.70000000000005,1764.8) scale(1,1.04)" font-size="20.2" font-weight="bold" font-style="normal" fill="#000" text-anchor="middle" >12</text>
<text transform="translate(272.5,1490) scale(1,1.04)" font-size="26" font-weight="bold" font-style="italic" fill="#000" text-anchor="start" >AePLY3</text>
<text transform="translate(49.8,1607.6) rotate(-90) scale(1,1.1)" font-size="24.6" font-weight="bold" text-anchor="middle">Relative expressin</text>
<text transform="translate(417.4,1682.2) scale(1,1.04)" font-size="17" font-weight="bold" font-style="normal" fill="#111" text-anchor="middle" letter-spacing="0.6">*</text>
<rect x="700.0" y="1518.9336" width="20.6" height="217.76639999999998" fill="#353535"/>
<line x1="710.3" y1="1503.0120000000002" x2="710.3" y2="1519.9336" stroke="#353535" stroke-width="2.7" />
<line x1="705.0" y1="1503.0120000000002" x2="715.5999999999999" y2="1503.0120000000002" stroke="#353535" stroke-width="2.7" />
<rect x="731.0" y="1518.9336" width="20.8" height="217.76639999999998" fill="#ed1c24"/>
<line x1="741.4" y1="1503.0120000000002" x2="741.4" y2="1519.9336" stroke="#ed1c24" stroke-width="2.7" />
<line x1="736.1" y1="1503.0120000000002" x2="746.6999999999999" y2="1503.0120000000002" stroke="#ed1c24" stroke-width="2.7" />
<rect x="782.3" y="1569.4376000000002" width="20.6" height="167.26239999999984" fill="#353535"/>
<line x1="792.5999999999999" y1="1548.0376" x2="792.5999999999999" y2="1570.4376000000002" stroke="#353535" stroke-width="2.7" />
<line x1="787.3" y1="1548.0376" x2="797.8999999999999" y2="1548.0376" stroke="#353535" stroke-width="2.7" />
<rect x="813.3" y="1577.4840000000002" width="20.8" height="159.2159999999999" fill="#ed1c24"/>
<line x1="823.6999999999999" y1="1558.9944" x2="823.6999999999999" y2="1578.4840000000002" stroke="#ed1c24" stroke-width="2.7" />
<line x1="818.4" y1="1558.9944" x2="828.9999999999999" y2="1558.9944" stroke="#ed1c24" stroke-width="2.7" />
<rect x="864.6" y="1627.132" width="20.6" height="109.56799999999998" fill="#353535"/>
<line x1="874.9" y1="1608.3000000000002" x2="874.9" y2="1628.132" stroke="#353535" stroke-width="2.7" />
<line x1="869.6" y1="1608.3000000000002" x2="880.1999999999999" y2="1608.3000000000002" stroke="#353535" stroke-width="2.7" />
<rect x="895.6" y="1714.444" width="20.8" height="22.256000000000085" fill="#ed1c24"/>
<line x1="906.0" y1="1705.884" x2="906.0" y2="1715.444" stroke="#ed1c24" stroke-width="2.7" />
<line x1="900.7" y1="1705.884" x2="911.3" y2="1705.884" stroke="#ed1c24" stroke-width="2.7" />
<rect x="946.9" y="1666.508" width="20.6" height="70.19200000000001" fill="#353535"/>
<line x1="957.1999999999999" y1="1655.7224" x2="957.1999999999999" y2="1667.508" stroke="#353535" stroke-width="2.7" />
<line x1="951.9" y1="1655.7224" x2="962.4999999999999" y2="1655.7224" stroke="#353535" stroke-width="2.7" />
<rect x="977.9" y="1722.8328000000001" width="20.8" height="13.867199999999912" fill="#ed1c24"/>
<line x1="988.3" y1="1712.5608" x2="988.3" y2="1723.8328000000001" stroke="#ed1c24" stroke-width="2.7" />
<line x1="983.0" y1="1712.5608" x2="993.5999999999999" y2="1712.5608" stroke="#ed1c24" stroke-width="2.7" />
<rect x="1029.2" y="1645.2792" width="20.6" height="91.4208000000001" fill="#353535"/>
<line x1="1039.5" y1="1632.6104" x2="1039.5" y2="1646.2792" stroke="#353535" stroke-width="2.7" />
<line x1="1034.2" y1="1632.6104" x2="1044.8" y2="1632.6104" stroke="#353535" stroke-width="2.7" />
<rect x="1060.2" y="1692.5304" width="20.8" height="44.169599999999946" fill="#ed1c24"/>
<line x1="1070.6000000000001" y1="1689.1064000000001" x2="1070.6000000000001" y2="1693.5304" stroke="#ed1c24" stroke-width="2.7" />
<line x1="1065.3000000000002" y1="1689.1064000000001" x2="1075.9" y2="1689.1064000000001" stroke="#ed1c24" stroke-width="2.7" />
<line x1="689.5" y1="1478.6000000000001" x2="689.5" y2="1738.0" stroke="#000" stroke-width="2.7" />
<line x1="688.2" y1="1736.7" x2="1094.6" y2="1736.7" stroke="#000" stroke-width="2.7" />
<line x1="681.2" y1="1736.7" x2="689.5" y2="1736.7" stroke="#000" stroke-width="2.7" />
<text transform="translate(678.9,1742.9) scale(1,1.04)" font-size="20.2" font-weight="bold" font-style="normal" fill="#000" text-anchor="end" >0.000</text>
<line x1="681.2" y1="1651.1000000000001" x2="689.5" y2="1651.1000000000001" stroke="#000" stroke-width="2.7" />
<text transform="translate(678.9,1657.3000000000002) scale(1,1.04)" font-size="20.2" font-weight="bold" font-style="normal" fill="#000" text-anchor="end" >0.005</text>
<line x1="681.2" y1="1565.5" x2="689.5" y2="1565.5" stroke="#000" stroke-width="2.7" />
<text transform="translate(678.9,1571.7) scale(1,1.04)" font-size="20.2" font-weight="bold" font-style="normal" fill="#000" text-anchor="end" >0.010</text>
<line x1="681.2" y1="1479.9" x2="689.5" y2="1479.9" stroke="#000" stroke-width="2.7" />
<text transform="translate(678.9,1486.1000000000001) scale(1,1.04)" font-size="20.2" font-weight="bold" font-style="normal" fill="#000" text-anchor="end" >0.015</text>
<line x1="726.0" y1="1736.7" x2="726.0" y2="1744.2" stroke="#000" stroke-width="2.7" />
<text transform="translate(726.0,1764.0) scale(1,1.04)" font-size="20.2" font-weight="bold" font-style="normal" fill="#000" text-anchor="middle" >0</text>
<line x1="808.3" y1="1736.7" x2="808.3" y2="1744.2" stroke="#000" stroke-width="2.7" />
<text transform="translate(808.3,1764.0) scale(1,1.04)" font-size="20.2" font-weight="bold" font-style="normal" fill="#000" text-anchor="middle" >3</text>
<line x1="890.6" y1="1736.7" x2="890.6" y2="1744.2" stroke="#000" stroke-width="2.7" />
<text transform="translate(890.6,1764.0) scale(1,1.04)" font-size="20.2" font-weight="bold" font-style="normal" fill="#000" text-anchor="middle" >6</text>
<line x1="972.9" y1="1736.7" x2="972.9" y2="1744.2" stroke="#000" stroke-width="2.7" />
<text transform="translate(972.9,1764.0) scale(1,1.04)" font-size="20.2" font-weight="bold" font-style="normal" fill="#000" text-anchor="middle" >9</text>
<line x1="1055.2" y1="1736.7" x2="1055.2" y2="1744.2" stroke="#000" stroke-width="2.7" />
<text transform="translate(1055.2,1764.0) scale(1,1.04)" font-size="20.2" font-weight="bold" font-style="normal" fill="#000" text-anchor="middle" >12</text>
<text transform="translate(843.8,1495) scale(1,1.04)" font-size="26" font-weight="bold" font-style="italic" fill="#000" text-anchor="start" >AePLY9</text>
<text transform="translate(615.3,1613.4) rotate(-90) scale(1,1.1)" font-size="24.6" font-weight="bold" text-anchor="middle">Relative expressin</text>
<text transform="translate(906.5,1703.2) scale(1,1.04)" font-size="17" font-weight="bold" font-style="normal" fill="#111" text-anchor="middle" letter-spacing="0.6">**</text>
<text transform="translate(988.7,1712.2) scale(1,1.04)" font-size="17" font-weight="bold" font-style="normal" fill="#111" text-anchor="middle" letter-spacing="0.6">*</text>
<text transform="translate(1071,1688.2) scale(1,1.04)" font-size="17" font-weight="bold" font-style="normal" fill="#111" text-anchor="middle" letter-spacing="0.6">*</text>
<text transform="translate(894.3,1800) scale(1,1.04)" font-size="26" font-weight="bold" font-style="normal" fill="#000" text-anchor="middle" >Storage time (days)</text>
<rect x="128.9" y="2002.32475" width="20.5" height="81.37524999999982" fill="#353535"/>
<line x1="139.15" y1="1984.063375" x2="139.15" y2="2003.32475" stroke="#353535" stroke-width="2.7" />
<line x1="133.85" y1="1984.063375" x2="144.45000000000002" y2="1984.063375" stroke="#353535" stroke-width="2.7" />
<rect x="159.6" y="2002.32475" width="20.900000000000002" height="81.37524999999982" fill="#ed1c24"/>
<line x1="170.05" y1="1984.063375" x2="170.05" y2="2003.32475" stroke="#ed1c24" stroke-width="2.7" />
<line x1="164.75" y1="1984.063375" x2="175.35000000000002" y2="1984.063375" stroke="#ed1c24" stroke-width="2.7" />
<rect x="211.60000000000002" y="1906.020025" width="20.5" height="177.67997499999979" fill="#353535"/>
<line x1="221.85000000000002" y1="1900.894025" x2="221.85000000000002" y2="1907.020025" stroke="#353535" stroke-width="2.7" />
<line x1="216.55" y1="1900.894025" x2="227.15000000000003" y2="1900.894025" stroke="#353535" stroke-width="2.7" />
<rect x="242.3" y="1994.699825" width="20.900000000000002" height="89.0001749999999" fill="#ed1c24"/>
<line x1="252.75000000000003" y1="1978.040325" x2="252.75000000000003" y2="1995.699825" stroke="#ed1c24" stroke-width="2.7" />
<line x1="247.45000000000002" y1="1978.040325" x2="258.05" y2="1978.040325" stroke="#ed1c24" stroke-width="2.7" />
<rect x="294.3" y="2003.0936499999998" width="20.5" height="80.60635000000002" fill="#353535"/>
<line x1="304.55" y1="1994.12315" x2="304.55" y2="2004.0936499999998" stroke="#353535" stroke-width="2.7" />
<line x1="299.25" y1="1994.12315" x2="309.85" y2="1994.12315" stroke="#353535" stroke-width="2.7" />
<rect x="325.0" y="2052.04695" width="20.900000000000002" height="31.653049999999894" fill="#ed1c24"/>
<line x1="335.45" y1="2047.5616999999997" x2="335.45" y2="2053.04695" stroke="#ed1c24" stroke-width="2.7" />
<line x1="330.15" y1="2047.5616999999997" x2="340.75" y2="2047.5616999999997" stroke="#ed1c24" stroke-width="2.7" />
<rect x="377.0" y="1967.72425" width="20.5" height="115.97574999999983" fill="#353535"/>
<line x1="387.25" y1="1931.84225" x2="387.25" y2="1968.72425" stroke="#353535" stroke-width="2.7" />
<line x1="381.95" y1="1931.84225" x2="392.55" y2="1931.84225" stroke="#353535" stroke-width="2.7" />
<rect x="407.7" y="2058.0699999999997" width="20.900000000000002" height="25.63000000000011" fill="#ed1c24"/>
<line x1="418.15" y1="2047.17725" x2="418.15" y2="2059.0699999999997" stroke="#ed1c24" stroke-width="2.7" />
<line x1="412.84999999999997" y1="2047.17725" x2="423.45" y2="2047.17725" stroke="#ed1c24" stroke-width="2.7" />
<rect x="459.70000000000005" y="2018.3435" width="20.5" height="65.35649999999987" fill="#353535"/>
<line x1="469.95000000000005" y1="2008.73225" x2="469.95000000000005" y2="2019.3435" stroke="#353535" stroke-width="2.7" />
<line x1="464.65000000000003" y1="2008.73225" x2="475.25000000000006" y2="2008.73225" stroke="#353535" stroke-width="2.7" />
<rect x="490.40000000000003" y="2041.02605" width="20.900000000000002" height="42.67394999999988" fill="#ed1c24"/>
<line x1="500.85" y1="2030.77405" x2="500.85" y2="2042.02605" stroke="#ed1c24" stroke-width="2.7" />
<line x1="495.55" y1="2030.77405" x2="506.15000000000003" y2="2030.77405" stroke="#ed1c24" stroke-width="2.7" />
<line x1="117.7" y1="1826.1000000000001" x2="117.7" y2="2085.0" stroke="#000" stroke-width="2.7" />
<line x1="116.4" y1="2083.7" x2="523" y2="2083.7" stroke="#000" stroke-width="2.7" />
<line x1="109.4" y1="2083.7" x2="117.7" y2="2083.7" stroke="#000" stroke-width="2.7" />
<text transform="translate(107.10000000000001,2089.8999999999996) scale(1,1.04)" font-size="20.2" font-weight="bold" font-style="normal" fill="#000" text-anchor="end" >0.00</text>
<line x1="109.4" y1="2019.625" x2="117.7" y2="2019.625" stroke="#000" stroke-width="2.7" />
<text transform="translate(107.10000000000001,2025.825) scale(1,1.04)" font-size="20.2" font-weight="bold" font-style="normal" fill="#000" text-anchor="end" >0.01</text>
<line x1="109.4" y1="1955.55" x2="117.7" y2="1955.55" stroke="#000" stroke-width="2.7" />
<text transform="translate(107.10000000000001,1961.75) scale(1,1.04)" font-size="20.2" font-weight="bold" font-style="normal" fill="#000" text-anchor="end" >0.02</text>
<line x1="109.4" y1="1891.4750000000001" x2="117.7" y2="1891.4750000000001" stroke="#000" stroke-width="2.7" />
<text transform="translate(107.10000000000001,1897.6750000000002) scale(1,1.04)" font-size="20.2" font-weight="bold" font-style="normal" fill="#000" text-anchor="end" >0.03</text>
<line x1="109.4" y1="1827.4" x2="117.7" y2="1827.4" stroke="#000" stroke-width="2.7" />
<text transform="translate(107.10000000000001,1833.6000000000001) scale(1,1.04)" font-size="20.2" font-weight="bold" font-style="normal" fill="#000" text-anchor="end" >0.04</text>
<line x1="153.9" y1="2083.7" x2="153.9" y2="2091.2" stroke="#000" stroke-width="2.7" />
<text transform="translate(153.9,2111.0) scale(1,1.04)" font-size="20.2" font-weight="bold" font-style="normal" fill="#000" text-anchor="middle" >0</text>
<line x1="236.60000000000002" y1="2083.7" x2="236.60000000000002" y2="2091.2" stroke="#000" stroke-width="2.7" />
<text transform="translate(236.60000000000002,2111.0) scale(1,1.04)" font-size="20.2" font-weight="bold" font-style="normal" fill="#000" text-anchor="middle" >3</text>
<line x1="319.3" y1="2083.7" x2="319.3" y2="2091.2" stroke="#000" stroke-width="2.7" />
<text transform="translate(319.3,2111.0) scale(1,1.04)" font-size="20.2" font-weight="bold" font-style="normal" fill="#000" text-anchor="middle" >6</text>
<line x1="402.0" y1="2083.7" x2="402.0" y2="2091.2" stroke="#000" stroke-width="2.7" />
<text transform="translate(402.0,2111.0) scale(1,1.04)" font-size="20.2" font-weight="bold" font-style="normal" fill="#000" text-anchor="middle" >9</text>
<line x1="484.70000000000005" y1="2083.7" x2="484.70000000000005" y2="2091.2" stroke="#000" stroke-width="2.7" />
<text transform="translate(484.70000000000005,2111.0) scale(1,1.04)" font-size="20.2" font-weight="bold" font-style="normal" fill="#000" text-anchor="middle" >12</text>
<text transform="translate(277.9,1843) scale(1,1.04)" font-size="26" font-weight="bold" font-style="italic" fill="#000" text-anchor="start" >AeABF</text>
<text transform="translate(49.8,1955) rotate(-90) scale(1,1.1)" font-size="24.6" font-weight="bold" text-anchor="middle">Relative expressin</text>
<text transform="translate(252,1973.2) scale(1,1.04)" font-size="17" font-weight="bold" font-style="normal" fill="#111" text-anchor="middle" letter-spacing="0.6">**</text>
<text transform="translate(334,2044.2) scale(1,1.04)" font-size="17" font-weight="bold" font-style="normal" fill="#111" text-anchor="middle" letter-spacing="0.6">**</text>
<text transform="translate(417.4,2044.2) scale(1,1.04)" font-size="17" font-weight="bold" font-style="normal" fill="#111" text-anchor="middle" letter-spacing="0.6">**</text>
<text transform="translate(327,2147.8) scale(1,1.04)" font-size="26" font-weight="bold" font-style="normal" fill="#000" text-anchor="middle" >Storage time (days)</text>
</svg>
</body></html>
